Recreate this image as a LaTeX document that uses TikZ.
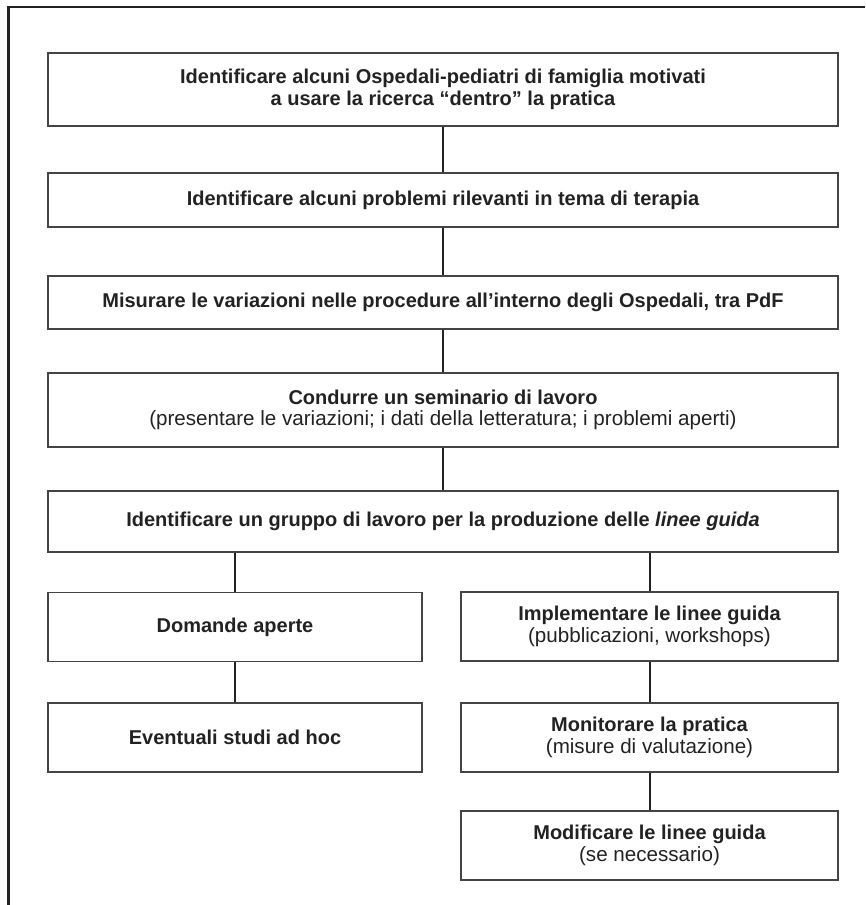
\documentclass[tikz,border=0pt]{standalone}
\usepackage{fontspec}
\setmainfont{Liberation Sans}
\usetikzlibrary{positioning}

\definecolor{inkgray}{HTML}{222222}
\definecolor{boxgray}{HTML}{444444}

\newcommand{\subtext}[1]{{\fontsize{20.6}{21.5}\selectfont\mdseries #1}}

\tikzset{
	stepbox/.style={draw=boxgray, line width=1.2pt, inner sep=0pt, align=center,
		text=inkgray, font=\fontsize{20}{21.5}\selectfont\bfseries},
	widebox/.style={stepbox, minimum width=790pt},
	halfbox/.style={stepbox, minimum width=376pt, minimum height=69pt},
	link/.style={draw=inkgray, line width=2pt}
}

\begin{document}
\begin{tikzpicture}[x=1pt,y=-1pt]
		\useasboundingbox (0,0) rectangle (865,905);
		\draw[line width=2.2pt,inkgray] (865,7) -- (8.5,7) -- (8.5,905);
		
		\node[widebox, minimum height=73pt] (ident) at (443,89.5) {Identificare alcuni Ospedali-pediatri di famiglia motivati\\a usare la ricerca “dentro” la pratica};
		\node[widebox, minimum height=54pt] (probl) at (443,200) {Identificare alcuni problemi rilevanti in tema di terapia};
		\node[widebox, minimum height=53pt] (misur) at (443,302.5) {Misurare le variazioni nelle procedure all’interno degli Ospedali, tra PdF};
		\node[widebox, minimum height=74pt] (semin) at (443,410) {Condurre un seminario di lavoro\\\subtext{(presentare le variazioni; i dati della letteratura; i problemi aperti)}};
		\node[widebox, minimum height=61pt] (grupp) at (443,521.5) {Identificare un gruppo di lavoro per la produzione delle \textit{linee guida}};
		
		\node[halfbox, minimum width=374pt] (doman) at (235,627) {Domande aperte};
		\node[halfbox, minimum width=374pt] (studi) at (235,737.5) {Eventuali studi ad hoc};
		
		\node[halfbox, minimum width=377pt] (imple) at (649.5,626.5) {Implementare le linee guida\\\subtext{(pubblicazioni, workshops)}};
		\node[halfbox, minimum width=377pt] (monit) at (649.5,737.5) {Monitorare la pratica\\\subtext{(misure di valutazione)}};
		\node[halfbox, minimum width=377pt] (modif) at (649.5,845.5) {Modificare le linee guida\\\subtext{(se necessario)}};
		
		\draw[link] (ident) -- (probl);
		\draw[link] (probl) -- (misur);
		\draw[link] (misur) -- (semin);
		\draw[link] (semin) -- (grupp);
		
		\draw[link] (doman.north) -- (doman.north |- grupp.south);
		\draw[link] (imple.north) -- (imple.north |- grupp.south);
		\draw[link] (doman) -- (studi);
		\draw[link] (imple) -- (monit);
		\draw[link] (monit) -- (modif);
	\end{tikzpicture}
\end{document}
